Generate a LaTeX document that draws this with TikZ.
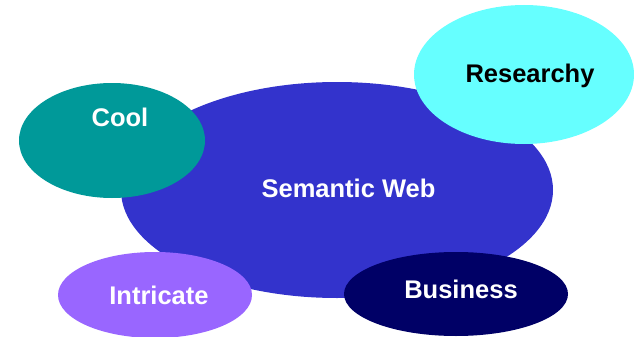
\documentclass[tikz,border=0pt]{standalone}
\usepackage{fontspec}
\setmainfont{Liberation Sans}
\usepackage{tikz}
\usetikzlibrary{shapes.geometric}
\definecolor{swblue}{HTML}{3333CC}
\definecolor{coolteal}{HTML}{009999}
\definecolor{rescyan}{HTML}{66FFFF}
\definecolor{intpurple}{HTML}{9966FF}
\definecolor{busnavy}{HTML}{000066}
\newcommand{\blobfont}{\fontsize{25.5}{30}\selectfont\bfseries}
\tikzset{
	blob/.style={ellipse, draw=none, inner sep=0pt},
	blobtext/.style={anchor=base, inner sep=0pt, font=\blobfont, text=white}
}

\begin{document}
\begin{tikzpicture}[x=1pt, y=-1pt]
		\useasboundingbox (0,0) rectangle (634,337);
		
		\draw (337,190) node[blob, fill=swblue, minimum width=432pt, minimum height=216pt] (sw) {};
		\draw (112,140.5) node[blob, fill=coolteal, minimum width=186pt, minimum height=115pt] (cool) {};
		\draw (524,74.5) node[blob, fill=rescyan, minimum width=220pt, minimum height=139pt] (res) {};
		\draw (155,295) node[blob, fill=intpurple, minimum width=194pt, minimum height=86pt] (intr) {};
		\draw (456,294) node[blob, fill=busnavy, minimum width=224pt, minimum height=84pt] (bus) {};
		
		\draw (348.5,197) node[blobtext] (swtext) {Semantic Web};
		\draw (120,126) node[blobtext] (cooltext) {Cool};
		\draw (530,82) node[blobtext, text=black] (restext) {Researchy};
		\draw (159,304) node[blobtext] (intrtext) {Intricate};
		\draw (461,298) node[blobtext] (bustext) {Business};
	\end{tikzpicture}
\end{document}
